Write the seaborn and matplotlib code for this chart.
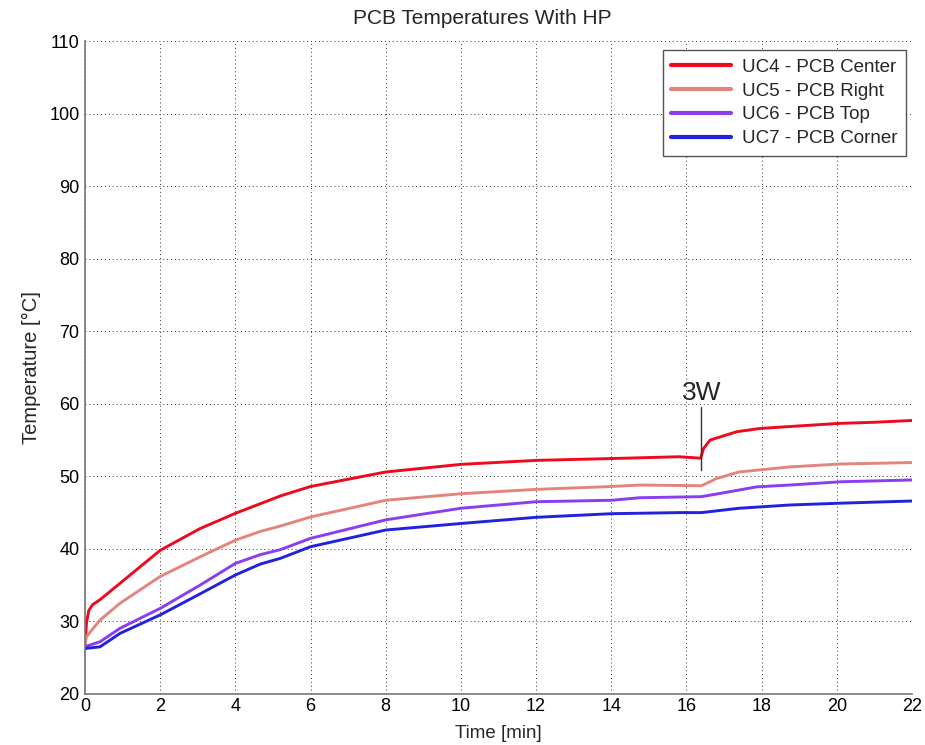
import numpy as np
import pandas as pd
import matplotlib
matplotlib.use("Agg")
import matplotlib.pyplot as plt
import seaborn as sns

# ---- data ----
t_uc4 = [0.0, 0.04, 0.1, 0.2, 0.4, 0.93, 2.0, 3.06, 4.0, 5.2, 6.0, 8.0, 10.0, 12.0, 14.0, 15.8, 16.38,
         16.45, 16.63, 17.0, 17.34, 17.96, 19.0, 20.08, 21.0, 22.0]
uc4 = [26.8, 29.8, 31.5, 32.3, 33.0, 35.25, 39.8, 42.8, 44.9, 47.3, 48.6, 50.6, 51.65, 52.2, 52.45, 52.7, 52.5,
       53.8, 55.0, 55.6, 56.15, 56.6, 56.95, 57.3, 57.45, 57.7]

t_uc5 = [0.0, 0.04, 0.4, 0.93, 2.0, 3.06, 4.0, 4.66, 5.2, 6.0, 8.0, 10.0, 12.0, 14.0, 14.76, 16.4, 16.8,
         17.4, 18.75, 20.1, 22.0]
uc5 = [26.8, 27.9, 30.2, 32.5, 36.2, 38.9, 41.2, 42.4, 43.15, 44.4, 46.7, 47.6, 48.2, 48.6, 48.8, 48.7, 49.7,
       50.6, 51.3, 51.7, 51.9]

t_uc6 = [0.0, 0.04, 0.4, 0.93, 2.0, 3.06, 4.0, 4.66, 5.2, 6.0, 8.0, 10.0, 12.0, 14.0, 14.76, 16.4, 16.9,
         17.87, 18.75, 20.1, 22.0]
uc6 = [26.6, 26.6, 27.2, 29.05, 31.8, 35.0, 38.0, 39.2, 39.9, 41.45, 44.0, 45.6, 46.5, 46.7, 47.05, 47.2, 47.65,
       48.55, 48.8, 49.25, 49.5]

t_uc7 = [0.0, 0.04, 0.4, 0.93, 2.0, 3.06, 4.0, 4.66, 5.2, 6.0, 8.0, 10.0, 12.0, 14.0, 15.8, 16.4, 17.4,
         18.75, 20.1, 22.0]
uc7 = [26.2, 26.3, 26.5, 28.35, 30.9, 33.8, 36.4, 37.9, 38.7, 40.3, 42.6, 43.5, 44.35, 44.85, 45.0, 45.0, 45.6,
       46.05, 46.3, 46.6]

labels = ["UC4 - PCB Center", "UC5 - PCB Right", "UC6 - PCB Top", "UC7 - PCB Corner"]
colors = ["#ee0a1e", "#e3857c", "#8a3ef0", "#2222dd"]

x_ticks = list(range(0, 23, 2))
y_ticks = list(range(20, 111, 10))

annot_t = 16.4
annot_y = [50.9, 59.6]
annot_text = "3W"

frames = []
for lab, tt, vv in zip(labels, [t_uc4, t_uc5, t_uc6, t_uc7], [uc4, uc5, uc6, uc7]):
    frames.append(pd.DataFrame({"Time": tt, "Temp": vv, "Sensor": lab}))
df = pd.concat(frames, ignore_index=True)

sns.set_theme(style="white")
plt.rcParams["font.family"] = ["Liberation Sans", "DejaVu Sans"]

fig = plt.figure(figsize=(9.25, 7.45), dpi=100)
ax = fig.add_axes([85 / 925, 51 / 745, 827 / 925, 653 / 745])

sns.lineplot(data=df, x="Time", y="Temp", hue="Sensor", palette=colors,
             hue_order=labels, linewidth=2.1, ax=ax, legend=True)

ax.set_xlim(0, 22)
ax.set_ylim(20, 110)
ax.set_xticks(x_ticks)
ax.set_yticks(y_ticks)
ax.grid(True, linestyle=(0, (1, 3)), color="#333333", linewidth=0.7)
ax.tick_params(direction="in", length=6, width=1, color="#555555", labelsize=13, pad=4,
               labelcolor="black")
ax.tick_params(axis="x", pad=3)
for s in ["top", "right"]:
    ax.spines[s].set_visible(False)
for s in ["left", "bottom"]:
    ax.spines[s].set_color("#777777")
    ax.spines[s].set_linewidth(1.2)

ax.set_xlabel("Time [min]", fontsize=13.5, labelpad=7)
ax.set_ylabel("Temperature [°C]", fontsize=14.5, labelpad=6)
ax.set_title("PCB Temperatures With HP", fontsize=15, pad=12, x=0.48)

ax.plot([annot_t, annot_t], annot_y, color="#333333", linewidth=1.0)
ax.text(annot_t, annot_y[1] + 0.3, annot_text, ha="center", va="bottom", fontsize=19)

leg = ax.legend(loc="upper right", fontsize=13.5, frameon=True, fancybox=False,
                edgecolor="#555555", framealpha=1, borderpad=0.45, handlelength=3.2,
                handletextpad=0.6, labelspacing=0.36, borderaxespad=0,
                bbox_to_anchor=(0.993, 0.986))
leg.get_frame().set_linewidth(1.0)
for line in leg.get_lines():
    line.set_linewidth(3.0)

fig.savefig("out.png", dpi=100)
